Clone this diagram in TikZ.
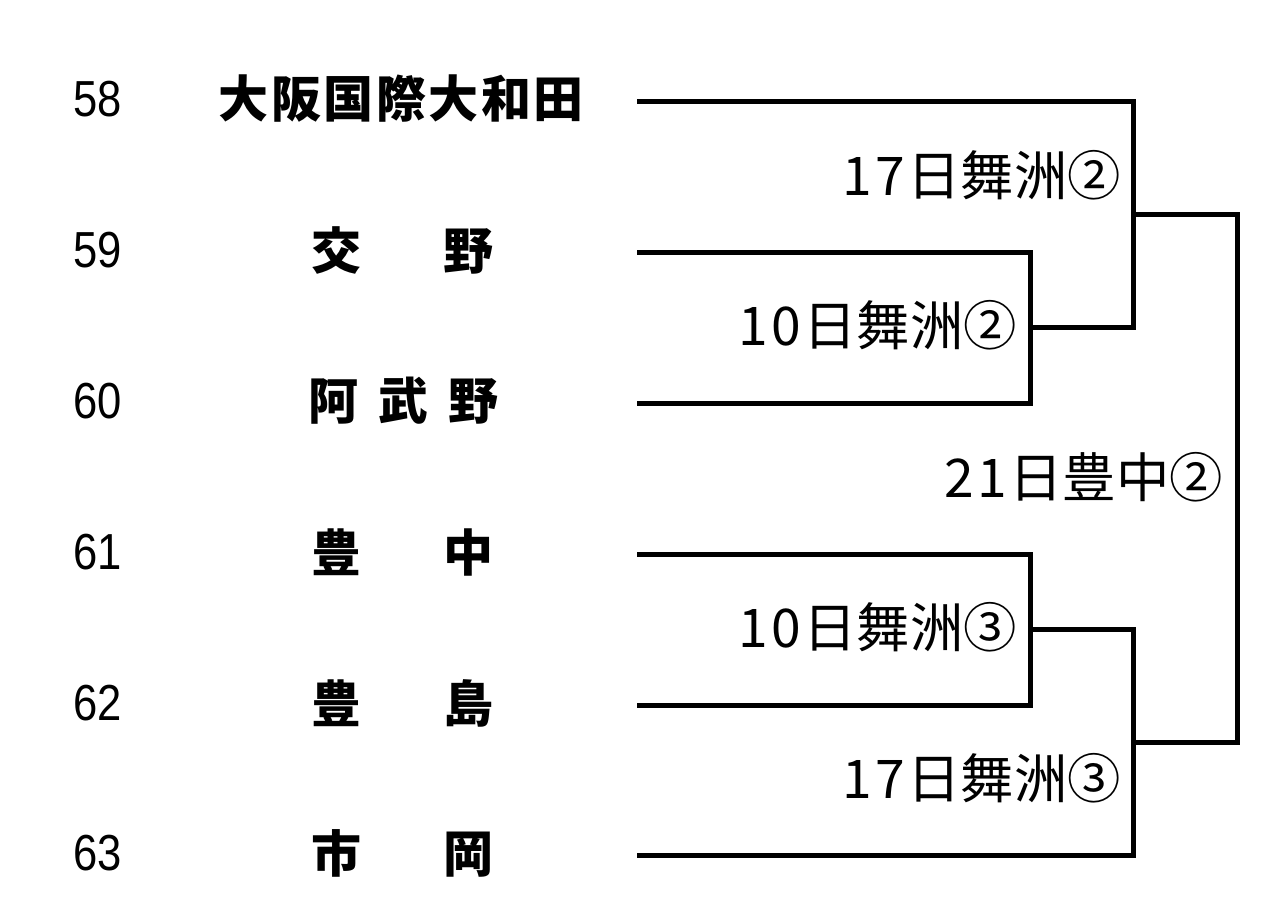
\documentclass[tikz,border=0pt]{standalone}
\usepackage{fontspec}
\newfontfamily\jp{Noto Sans CJK JP}
\newfontfamily\numfont[FakeStretch=0.86]{Liberation Sans}
\newcommand\spreadbox[2]{\makebox[\dimexpr #1pt*3/4\relax][s]{#2}}
\tikzset{
  bracket/.style={line width=3.75pt, line join=miter},
  numlbl/.style={inner sep=0pt, font=\numfont\fontsize{38}{40}\selectfont},
  team/.style={inner sep=0pt, font=\jp\bfseries\fontsize{37.5}{40}\selectfont},
  game/.style={inner sep=0pt, anchor=east, font=\jp\fontsize{40}{42}\selectfont},
}
\begin{document}
\begin{tikzpicture}[x=0.75pt,y=-0.75pt]
\useasboundingbox[fill=white] (0,0) rectangle (1280,896);
% numbers
\node[numlbl] (n58) at (98,99) {58};
\node[numlbl] (n59) at (98,250) {59};
\node[numlbl] (n60) at (98,401) {60};
\node[numlbl] (n61) at (98,552) {61};
\node[numlbl] (n62) at (98,703) {62};
\node[numlbl] (n63) at (98,853) {63};
% team names
\node[team] (t58) at (401,99) {\spreadbox{365}{大\hfill{}阪\hfill{}国\hfill{}際\hfill{}大\hfill{}和\hfill{}田}};
\node[team] (t59) at (402,250) {\spreadbox{182}{交\hfill{}野}};
\node[team] (t60) at (403,401) {\spreadbox{190}{阿\hfill{}武\hfill{}野}};
\node[team] (t61) at (402,552) {\spreadbox{182}{豊\hfill{}中}};
\node[team] (t62) at (402,703) {\spreadbox{182}{豊\hfill{}島}};
\node[team] (t63) at (402,853) {\spreadbox{182}{市\hfill{}岡}};
% bracket coordinates
\coordinate (a58) at (637,101);
\coordinate (a59) at (637,252);
\coordinate (a60) at (637,403);
\coordinate (a61) at (637,554);
\coordinate (a62) at (637,705);
\coordinate (a63) at (637,855);
\coordinate (m1) at (1030,327.5);
\coordinate (m2) at (1030,629.5);
\coordinate (q1) at (1133,214);
\coordinate (q2) at (1133,742);
\coordinate (f) at (1237,478);
\draw[bracket] (a59) -| (m1) |- (a60);
\draw[bracket] (a58) -| (q1) |- (m1);
\draw[bracket] (a61) -| (m2) |- (a62);
\draw[bracket] (a63) -| (q2) |- (m2);
\draw[bracket] (q1) -| (f) |- (q2);
% game labels
\node[game] (g1) at (1121,175) {1\kern2.5pt 7\kern1.5pt 日舞洲②};
\node[game] (g2) at (1017,325) {1\kern2.5pt 0\kern1.5pt 日舞洲②};
\node[game] (g3) at (1223,477) {2\kern2.5pt 1\kern1.5pt 日豊中②};
\node[game] (g4) at (1017,627) {1\kern2.5pt 0\kern1.5pt 日舞洲③};
\node[game] (g5) at (1121,778) {1\kern2.5pt 7\kern1.5pt 日舞洲③};
\end{tikzpicture}
\end{document}
